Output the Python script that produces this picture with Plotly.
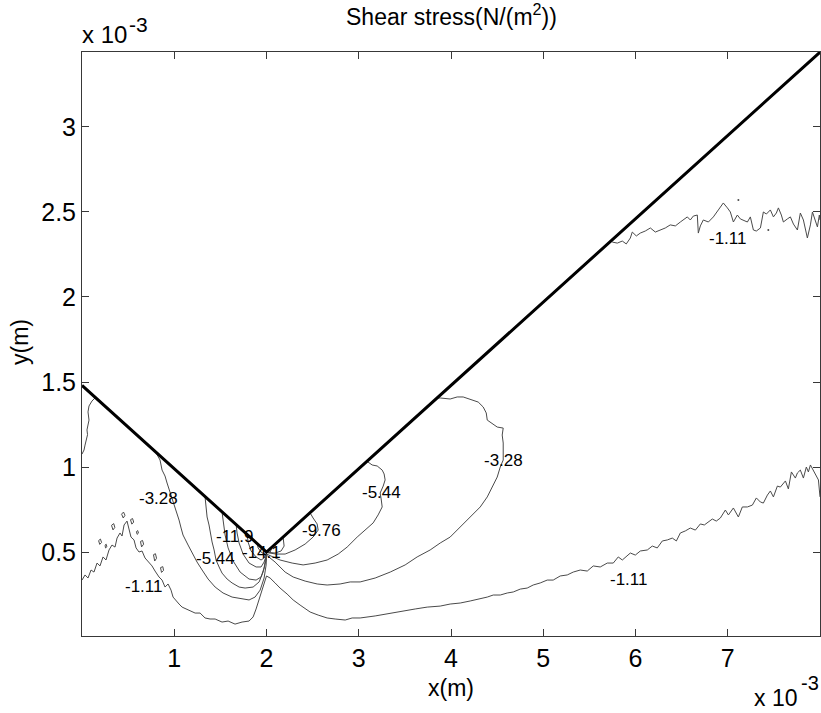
import plotly.graph_objects as go

# ---------------- data (x, y in units of 1e-3 m) ----------------
# V-notch boundary
notch_x = [0.0, 2.0, 8.0]
notch_y = [1.48, 0.5, 3.44]

# contour level -1.11, top-left piece
c111_tl_x = [0.141, 0.108, 0.076, 0.065, 0.076, 0.054, 0.060, 0.043, 0.033, 0.022, 0.0]
c111_tl_y = [1.406, 1.388, 1.359, 1.324, 1.276, 1.218, 1.190, 1.160, 1.129, 1.100, 1.076]

# contour level -1.11, lower-left (noisy) branch
c111_l_x = [0.0, 0.033, 0.065, 0.098, 0.130, 0.163, 0.195, 0.228, 0.260, 0.293, 0.325, 0.358,
            0.380, 0.412, 0.434, 0.456, 0.488, 0.510, 0.531, 0.564, 0.586, 0.618, 0.651, 0.683,
            0.727, 0.759, 0.792, 0.835, 0.868, 0.900, 0.933, 0.965, 0.987, 1.020, 1.052, 1.085,
            1.150, 1.226, 1.280, 1.334, 1.388, 1.443, 1.518, 1.584, 1.659, 1.735, 1.811, 1.855,
            1.887, 1.920, 1.952, 1.985, 2.0]
c111_l_y = [0.335, 0.365, 0.347, 0.394, 0.382, 0.435, 0.418, 0.471, 0.453, 0.512, 0.541, 0.529,
            0.582, 0.612, 0.594, 0.659, 0.682, 0.641, 0.588, 0.571, 0.524, 0.500, 0.506, 0.465,
            0.435, 0.418, 0.388, 0.353, 0.335, 0.294, 0.312, 0.276, 0.235, 0.212, 0.194, 0.176,
            0.159, 0.141, 0.141, 0.112, 0.106, 0.106, 0.088, 0.094, 0.076, 0.088, 0.094, 0.118,
            0.165, 0.218, 0.271, 0.324, 0.359]

# small irregular islands of level -1.11 (separated by None)
c111_isl_x = [0.428, 0.450, 0.466, 0.447, 0.430, None,
              0.320, 0.344, 0.356, 0.336, 0.320, None,
              0.526, 0.548, 0.560, 0.540, 0.526, None,
              0.634, 0.656, 0.668, 0.646, 0.634, None,
              0.775, 0.796, 0.808, 0.788, 0.775, None,
              0.851, 0.876, 0.884, 0.862, 0.851, None,
              0.180, 0.200, 0.212, 0.192, 0.180, None,
              0.250, 0.262, 0.270, 0.255, 0.250, None,
              0.590, 0.604, 0.612, 0.598, 0.590]
c111_isl_y = [0.722, 0.735, 0.716, 0.700, 0.722, None,
              0.657, 0.667, 0.645, 0.630, 0.657, None,
              0.690, 0.697, 0.676, 0.664, 0.690, None,
              0.562, 0.568, 0.546, 0.530, 0.562, None,
              0.484, 0.490, 0.463, 0.447, 0.484, None,
              0.408, 0.414, 0.392, 0.380, 0.408, None,
              0.567, 0.576, 0.556, 0.545, 0.567, None,
              0.540, 0.546, 0.531, 0.524, 0.540, None,
              0.620, 0.626, 0.611, 0.604, 0.620]

# contour level -1.11, lower-right branch
c111_r_x = [2.0, 2.039, 2.093, 2.147, 2.223, 2.289, 2.364, 2.473, 2.560, 2.657, 2.744, 2.853,
            2.928, 3.015, 3.178, 3.286, 3.373, 3.503, 3.612, 3.742, 3.883, 3.991, 4.100, 4.208,
            4.317, 4.393, 4.458, 4.534, 4.610, 4.675, 4.751, 4.826, 4.891, 4.967, 5.043, 5.108,
            5.184, 5.260, 5.325, 5.401, 5.477, 5.542, 5.618, 5.694, 5.759, 5.813, 5.857, 5.911,
            5.944, 5.998, 6.052, 6.128, 6.182, 6.236, 6.291, 6.345, 6.399, 6.443, 6.486, 6.540,
            6.594, 6.649, 6.703, 6.746, 6.779, 6.833, 6.876, 6.920, 6.974, 7.007, 7.061, 7.115,
            7.158, 7.213, 7.267, 7.310, 7.354, 7.386, 7.430, 7.462, 7.495, 7.538, 7.570, 7.625,
            7.657, 7.690, 7.733, 7.755, 7.787, 7.820, 7.852, 7.874, 7.896, 7.928, 7.961, 7.983,
            8.0]
c111_r_y = [0.359, 0.347, 0.318, 0.288, 0.253, 0.218, 0.188, 0.147, 0.129, 0.112, 0.106, 0.100,
            0.112, 0.112, 0.124, 0.135, 0.141, 0.153, 0.165, 0.176, 0.182, 0.194, 0.200, 0.212,
            0.224, 0.235, 0.247, 0.247, 0.259, 0.265, 0.282, 0.288, 0.306, 0.318, 0.335, 0.335,
            0.359, 0.365, 0.382, 0.394, 0.388, 0.418, 0.412, 0.435, 0.435, 0.471, 0.453, 0.482,
            0.494, 0.482, 0.506, 0.512, 0.535, 0.524, 0.565, 0.571, 0.582, 0.565, 0.612, 0.624,
            0.641, 0.629, 0.665, 0.659, 0.671, 0.694, 0.682, 0.700, 0.747, 0.718, 0.759, 0.706,
            0.765, 0.765, 0.776, 0.818, 0.794, 0.788, 0.835, 0.859, 0.824, 0.888, 0.882, 0.918,
            0.871, 0.971, 0.935, 0.965, 0.982, 0.935, 1.000, 0.971, 1.012, 0.982, 0.953, 0.924,
            0.824]

# contour level -1.11, upper-right branch
c111_ur_x = [5.748, 5.803, 5.857, 5.900, 5.944, 5.965, 6.009, 6.052, 6.106, 6.161, 6.215, 6.269,
             6.323, 6.377, 6.432, 6.486, 6.529, 6.562, 6.594, 6.627, 6.670, 6.681, 6.703, 6.735,
             6.790, 6.844, 6.898, 6.952, 6.996, 7.028, 7.061, 7.082, 7.104, 7.137, 7.169, 7.213,
             7.245, 7.278, 7.310, 7.354, 7.386, 7.419, 7.462, 7.495, 7.527, 7.549, 7.581, 7.603,
             7.646, 7.679, 7.712, 7.755, 7.787, 7.820, 7.863, 7.896, 7.918, 7.950, 7.972, 7.993,
             8.0]
c111_ur_y = [2.323, 2.317, 2.329, 2.312, 2.347, 2.382, 2.359, 2.376, 2.388, 2.406, 2.382, 2.394,
             2.406, 2.424, 2.418, 2.441, 2.459, 2.471, 2.453, 2.476, 2.482, 2.376, 2.418, 2.453,
             2.441, 2.471, 2.512, 2.553, 2.524, 2.500, 2.441, 2.465, 2.482, 2.459, 2.453, 2.441,
             2.471, 2.394, 2.388, 2.406, 2.500, 2.488, 2.512, 2.471, 2.494, 2.524, 2.482, 2.441,
             2.459, 2.471, 2.429, 2.394, 2.494, 2.453, 2.347, 2.424, 2.500, 2.441, 2.412, 2.482,
             2.453]
c111_dots_x = [7.115, 7.440]
c111_dots_y = [2.571, 2.394]

# contour level -3.28
c328_l_x = [0.792, 0.846, 0.868, 0.900, 0.922, 0.954, 0.976, 1.020, 1.052, 1.074, 1.095, 1.150,
            1.193, 1.247, 1.302, 1.367, 1.443, 1.529, 1.627, 1.725, 1.811, 1.876, 1.931, 1.974,
            1.996, 2.0]
c328_l_y = [1.094, 1.041, 0.982, 0.947, 0.906, 0.853, 0.806, 0.747, 0.688, 0.641, 0.600, 0.541,
            0.494, 0.441, 0.394, 0.341, 0.294, 0.259, 0.235, 0.224, 0.218, 0.235, 0.276, 0.347,
            0.424, 0.476]
c328_r_x = [2.0, 2.093, 2.202, 2.289, 2.419, 2.549, 2.657, 2.798, 2.907, 3.015, 3.178, 3.341,
            3.503, 3.633, 3.774, 3.883, 3.991, 4.100, 4.208, 4.317, 4.393, 4.447, 4.501, 4.534,
            4.566, 4.566, 4.566, 4.555, 4.566, 4.501, 4.447, 4.393, 4.382, 4.349, 4.295, 4.208,
            4.132, 4.067, 3.991, 3.883, 3.850]
c328_r_y = [0.482, 0.441, 0.382, 0.353, 0.329, 0.312, 0.306, 0.312, 0.324, 0.324, 0.347, 0.382,
            0.424, 0.471, 0.512, 0.553, 0.588, 0.647, 0.706, 0.765, 0.824, 0.882, 0.941, 1.000,
            1.041, 1.100, 1.141, 1.188, 1.229, 1.235, 1.253, 1.276, 1.318, 1.353, 1.382, 1.400,
            1.412, 1.412, 1.400, 1.406, 1.406]

# contour level -5.44
c544_l_x = [1.334, 1.345, 1.356, 1.377, 1.388, 1.410, 1.432, 1.453, 1.486, 1.518, 1.573, 1.627,
            1.703, 1.768, 1.855, 1.920, 1.963, 1.996, 2.0]
c544_l_y = [0.824, 0.776, 0.706, 0.659, 0.618, 0.559, 0.512, 0.453, 0.412, 0.376, 0.341, 0.318,
            0.294, 0.288, 0.294, 0.324, 0.382, 0.453, 0.490]
c544_r_x = [2.0, 2.147, 2.278, 2.397, 2.527, 2.657, 2.777, 2.874, 2.983, 3.069, 3.156, 3.210,
            3.254, 3.243, 3.232, 3.265, 3.286, 3.275, 3.254, 3.200, 3.145, 3.091]
c544_r_y = [0.488, 0.453, 0.435, 0.424, 0.435, 0.453, 0.488, 0.529, 0.588, 0.629, 0.671, 0.718,
            0.765, 0.812, 0.847, 0.888, 0.924, 0.959, 0.982, 1.006, 1.012, 1.033]

# contour level -7.60 (unlabelled)
c760_l_x = [1.518, 1.529, 1.551, 1.584, 1.638, 1.714, 1.811, 1.887, 1.941, 1.974, 1.996, 2.0]
c760_l_y = [0.735, 0.676, 0.600, 0.524, 0.447, 0.382, 0.341, 0.335, 0.353, 0.406, 0.465, 0.494]

# contour level -9.76
c976_l_x = [1.670, 1.681, 1.703, 1.746, 1.811, 1.887, 1.941, 1.974, 1.996, 2.0]
c976_l_y = [0.665, 0.612, 0.553, 0.488, 0.435, 0.412, 0.412, 0.441, 0.476, 0.497]
c976_r_x = [2.0, 2.104, 2.202, 2.310, 2.419, 2.505, 2.560, 2.549, 2.505, 2.473]
c976_r_y = [0.497, 0.488, 0.488, 0.512, 0.547, 0.588, 0.629, 0.665, 0.700, 0.730]

# contour level -11.9
c119_l_x = [1.790, 1.800, 1.833, 1.887, 1.941, 1.974, 1.996, 2.0]
c119_l_y = [0.606, 0.559, 0.506, 0.471, 0.453, 0.465, 0.488, 0.499]
c119_r_x = [2.0, 2.093, 2.158, 2.191, 2.180]
c119_r_y = [0.499, 0.494, 0.506, 0.535, 0.586]

# contour level -14.1
c141_l_x = [1.898, 1.909, 1.941, 1.974, 2.0]
c141_l_y = [0.553, 0.524, 0.500, 0.488, 0.500]
c141_r_x = [2.0, 2.04, 2.06]
c141_r_y = [0.500, 0.500, 0.528]

# inline contour labels
label_text = ["-3.28", "-1.11", "-5.44", "-11.9", "-14.1", "-9.76", "-5.44", "-3.28", "-1.11", "-1.11"]
label_x = [0.830, 0.672, 1.443, 1.659, 1.941, 2.592, 3.243, 4.566, 5.933, 7.006]
label_y = [0.812, 0.300, 0.459, 0.594, 0.500, 0.624, 0.850, 1.041, 0.341, 2.344]

x_ticks = [1, 2, 3, 4, 5, 6, 7]
y_ticks = [0.5, 1, 1.5, 2, 2.5, 3]
y_tick_text = ["0.5", "1", "1.5", "2", "2.5", "3"]

# ---------------- figure ----------------
FONT = "Arial, Liberation Sans, Helvetica, sans-serif"
LINE_COL = "#4a4a4a"
AXIS_COL = "#383838"

contours = [
    (c111_tl_x, c111_tl_y), (c111_l_x, c111_l_y), (c111_isl_x, c111_isl_y),
    (c111_r_x, c111_r_y), (c111_ur_x, c111_ur_y),
    (c328_l_x, c328_l_y), (c328_r_x, c328_r_y),
    (c544_l_x, c544_l_y), (c544_r_x, c544_r_y),
    (c760_l_x, c760_l_y),
    (c976_l_x, c976_l_y), (c976_r_x, c976_r_y),
    (c119_l_x, c119_l_y), (c119_r_x, c119_r_y),
    (c141_l_x, c141_l_y), (c141_r_x, c141_r_y),
]

fig = go.Figure()
for cx, cy in contours:
    fig.add_trace(go.Scatter(x=cx, y=cy, mode="lines",
                             line=dict(color=LINE_COL, width=1),
                             hoverinfo="skip", showlegend=False))
fig.add_trace(go.Scatter(x=c111_dots_x, y=c111_dots_y, mode="markers",
                         marker=dict(color=LINE_COL, size=2),
                         hoverinfo="skip", showlegend=False))
fig.add_trace(go.Scatter(x=notch_x, y=notch_y, mode="lines",
                         line=dict(color="black", width=3),
                         hoverinfo="skip", showlegend=False))

for t, lx, ly in zip(label_text, label_x, label_y):
    fig.add_annotation(x=lx, y=ly, xref="x", yref="y", text=t, showarrow=False,
                       font=dict(family=FONT, size=17, color="black"))

def px_to_paper_x(px):
    return (px - 82) / 738.0

def px_to_paper_y(py):
    return (636 - py) / 584.0

paper_notes = [
    # text, px_x, px_y, xanchor, size, angle
    ("Shear stress(N/(m<sup>2</sup>))", 451, 15, "center", 23, 0),
    ("x(m)", 451, 688, "center", 23, 0),
    ("y(m)", 20, 342, "center", 23, -90),
    ("x 10", 80, 35, "left", 24, 0),
    ("-3", 127, 24, "left", 21, 0),
    ("x 10", 752, 698, "left", 23, 0),
    ("-3", 799, 683, "left", 20, 0),
]
for t, px, py, xa, sz, ang in paper_notes:
    fig.add_annotation(x=px_to_paper_x(px), y=px_to_paper_y(py), xref="paper", yref="paper",
                       text=t, showarrow=False, xanchor=xa, yanchor="middle",
                       textangle=ang, font=dict(family=FONT, size=sz, color="black"))

axis_common = dict(showgrid=False, zeroline=False, showline=True, linecolor=AXIS_COL,
                   linewidth=1, mirror="ticks", ticks="inside", ticklen=7,
                   tickcolor=AXIS_COL, tickwidth=1,
                   tickfont=dict(family=FONT, size=25, color="black"))

fig.update_layout(
    width=821, height=713,
    margin=dict(l=82, r=1, t=52, b=77),
    paper_bgcolor="white", plot_bgcolor="white",
    xaxis=dict(range=[0, 8.0], tickvals=x_ticks, ticktext=[str(v) for v in x_ticks],
               **axis_common),
    yaxis=dict(range=[0.006, 3.441], tickvals=y_ticks, ticktext=y_tick_text,
               **axis_common),
)

fig.write_html("out.html",
               config={"displayModeBar": False},
               post_script="document.body.style.margin='0px';"
                           "document.body.style.overflow='hidden';")
